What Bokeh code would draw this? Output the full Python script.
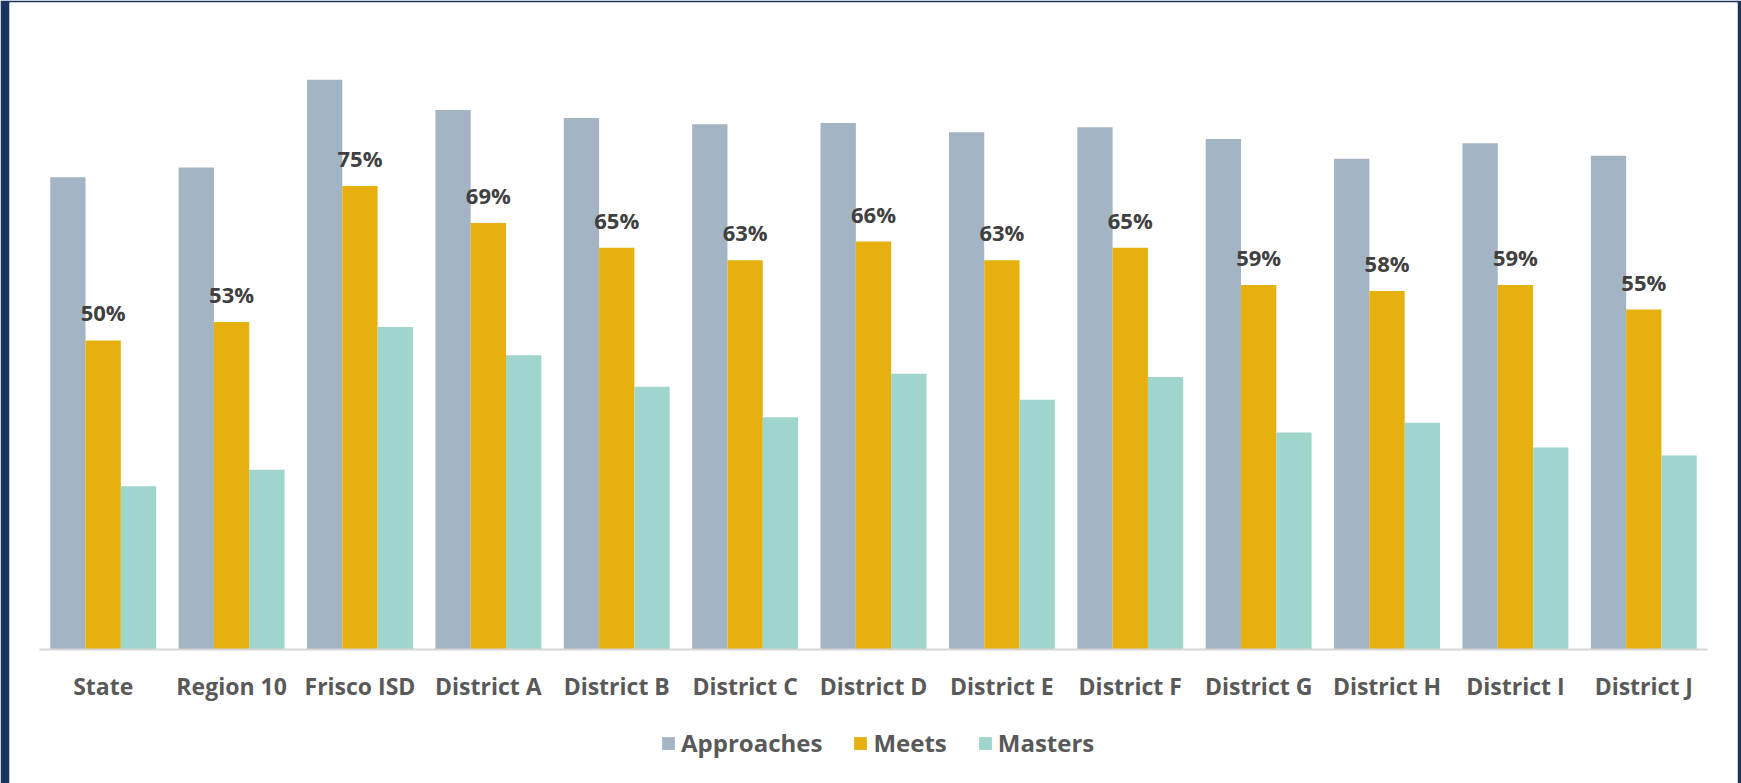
from bokeh.plotting import figure
from bokeh.models import FactorRange, Range1d, Legend, LegendItem, ColumnDataSource
from bokeh.transform import dodge
from bokeh.core.properties import value
from bokeh.embed import file_html
from bokeh.resources import INLINE

categories = ["State", "Region 10", "Frisco ISD", "District A", "District B", "District C",
              "District D", "District E", "District F", "District G", "District H",
              "District I", "District J"]
approaches = [76.4, 78.0, 92.2, 87.3, 86.0, 85.0, 85.2, 83.7, 84.5, 82.6, 79.4, 81.9, 79.9]
meets = [50, 53, 75, 69, 65, 63, 66, 63, 65, 59, 58, 59, 55]
masters = [26.4, 29.1, 52.2, 47.6, 42.5, 37.6, 44.6, 40.4, 44.1, 35.1, 36.7, 32.7, 31.4]
series_names = ["Approaches", "Meets", "Masters"]

C_APP = "#A3B4C4"
C_MEE = "#E6B00E"
C_MAS = "#9FD5CC"
NAVY = "#1B335F"
FONT = "Open Sans"

src = ColumnDataSource(dict(
    cat=categories, approaches=approaches, meets=meets, masters=masters,
    label=[f"{v:.0f}%" for v in meets],
))

p = figure(x_range=FactorRange(*categories, range_padding=0.2298,
                               range_padding_units="absolute"),
           y_range=Range1d(-21.68, 104.69),
           width=1741, height=783, output_backend="svg", toolbar_location=None,
           min_border_left=9, min_border_right=4, min_border_top=2, min_border_bottom=0)

bw = 0.275
r1 = p.vbar(x=dodge("cat", -bw, range=p.x_range), top="approaches", width=bw, source=src,
            fill_color=C_APP, line_color=None)
r2 = p.vbar(x=dodge("cat", 0, range=p.x_range), top="meets", width=bw, source=src,
            fill_color=C_MEE, line_color=None)
r3 = p.vbar(x=dodge("cat", bw, range=p.x_range), top="masters", width=bw, source=src,
            fill_color=C_MAS, line_color=None)

p.text(x="cat", y="meets", text="label", source=src, text_align="center",
       text_baseline="alphabetic", y_offset=-28, text_font=value(FONT),
       text_font_style="bold", text_font_size="22px", text_color="#404040")

p.yaxis.visible = False
p.xgrid.visible = False
p.ygrid.visible = False
p.outline_line_color = None
p.background_fill_color = "white"
p.border_fill_color = NAVY

ax = p.xaxis[0]
ax.fixed_location = 0
ax.bounds = (0, len(categories))
ax.axis_line_color = "#D6D6D6"
ax.axis_line_width = 2
ax.major_tick_line_color = None
ax.major_tick_out = 0
ax.major_tick_in = 0
ax.minor_tick_line_color = None
ax.major_label_standoff = 20
ax.major_label_text_font = FONT
ax.major_label_text_font_style = "bold"
ax.major_label_text_font_size = "23px"
ax.major_label_text_color = "#595959"

legend = Legend(items=[LegendItem(label=series_names[0], renderers=[r1]),
                       LegendItem(label=series_names[1], renderers=[r2]),
                       LegendItem(label=series_names[2], renderers=[r3])],
                orientation="horizontal", location=(651, 24),
                glyph_width=16, glyph_height=16, label_standoff=5, spacing=30,
                label_text_font=FONT, label_text_font_style="bold",
                label_text_font_size="24px", label_text_color="#595959",
                border_line_color=None, background_fill_alpha=0, padding=0, margin=0)
p.add_layout(legend, "center")

open("out.html", "w").write(file_html(p, INLINE))
